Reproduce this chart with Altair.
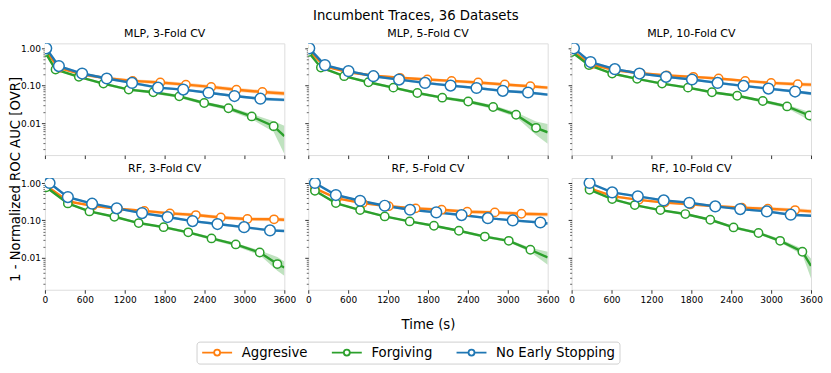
import altair as alt
import pandas as pd

PANELS = ["MLP, 3-Fold CV", "MLP, 5-Fold CV", "MLP, 10-Fold CV",
          "RF, 3-Fold CV", "RF, 5-Fold CV", "RF, 10-Fold CV"]
SERIES = ["Aggresive", "Forgiving", "No Early Stopping"]
COLORS = ["#ff7f0e", "#2ca02c", "#1f77b4"]
XTICKS = [0, 600, 1200, 1800, 2400, 3000, 3600]
YTICKS = [0.002, 0.003, 0.004, 0.005, 0.006, 0.007, 0.008, 0.009,
          0.01, 0.02, 0.03, 0.04, 0.05, 0.06, 0.07, 0.08, 0.09,
          0.1, 0.2, 0.3, 0.4, 0.5, 0.6, 0.7, 0.8, 0.9, 1.0]

# ---------------- MLP, 3-Fold CV ----------------
M3_A_T = [0, 210, 570, 940, 1320, 1735, 2120, 2500, 2880, 3270, 3600]
M3_A_Y = [0.9, 0.30, 0.20, 0.158, 0.135, 0.122, 0.107, 0.093, 0.078, 0.068, 0.062]
M3_A_LO = [0.85, 0.28, 0.183, 0.143, 0.121, 0.109, 0.095, 0.082, 0.069, 0.06, 0.054]
M3_A_HI = [0.95, 0.32, 0.218, 0.174, 0.15, 0.136, 0.12, 0.105, 0.088, 0.077, 0.071]
M3_F_T = [0, 160, 510, 880, 1260, 1630, 2020, 2395, 2760, 3110, 3440, 3600]
M3_F_Y = [0.8, 0.272, 0.173, 0.114, 0.079, 0.067, 0.052, 0.0345, 0.025, 0.0151, 0.0083, 0.0045]
M3_F_LO = [0.75, 0.255, 0.16, 0.105, 0.073, 0.061, 0.047, 0.031, 0.022, 0.0128, 0.0058, 0.0015]
M3_F_HI = [0.85, 0.29, 0.186, 0.123, 0.086, 0.073, 0.057, 0.038, 0.028, 0.0175, 0.0112, 0.0085]
M3_N_T = [20, 210, 560, 930, 1310, 1700, 2080, 2460, 2850, 3240, 3600]
M3_N_Y = [1.0, 0.335, 0.212, 0.156, 0.119, 0.089, 0.079, 0.065, 0.053, 0.045, 0.042]
M3_N_LO = [0.92, 0.31, 0.196, 0.144, 0.11, 0.082, 0.073, 0.06, 0.049, 0.041, 0.038]
M3_N_HI = [1.0, 0.36, 0.228, 0.168, 0.128, 0.096, 0.085, 0.07, 0.057, 0.049, 0.046]

# ---------------- MLP, 5-Fold CV ----------------
M5_A_T = [0, 250, 610, 990, 1380, 1790, 2155, 2555, 2955, 3340, 3600]
M5_A_Y = [0.9, 0.33, 0.23, 0.185, 0.163, 0.147, 0.135, 0.122, 0.108, 0.097, 0.089]
M5_A_LO = [0.85, 0.31, 0.213, 0.17, 0.15, 0.134, 0.122, 0.11, 0.097, 0.087, 0.079]
M5_A_HI = [0.95, 0.35, 0.248, 0.2, 0.177, 0.16, 0.148, 0.134, 0.119, 0.107, 0.099]
M5_F_T = [0, 190, 540, 905, 1280, 1640, 2015, 2405, 2780, 3125, 3425, 3600]
M5_F_Y = [0.8, 0.308, 0.18, 0.124, 0.089, 0.064, 0.048, 0.038, 0.027, 0.0168, 0.0075, 0.0057]
M5_F_LO = [0.75, 0.29, 0.168, 0.115, 0.082, 0.059, 0.044, 0.034, 0.024, 0.0145, 0.0048, 0.0028]
M5_F_HI = [0.85, 0.325, 0.192, 0.133, 0.096, 0.069, 0.052, 0.042, 0.030, 0.0195, 0.011, 0.0095]
M5_N_T = [15, 250, 605, 980, 1365, 1755, 2140, 2530, 2925, 3305, 3600]
M5_N_Y = [1.0, 0.356, 0.246, 0.18, 0.146, 0.119, 0.101, 0.087, 0.073, 0.066, 0.058]
M5_N_LO = [0.92, 0.33, 0.228, 0.166, 0.135, 0.11, 0.093, 0.08, 0.067, 0.06, 0.053]
M5_N_HI = [1.0, 0.38, 0.265, 0.194, 0.158, 0.128, 0.109, 0.094, 0.079, 0.072, 0.063]

# ---------------- MLP, 10-Fold CV ----------------
M10_A_T = [0, 290, 660, 1040, 1430, 1830, 2210, 2610, 3000, 3400, 3600]
M10_A_Y = [0.88, 0.37, 0.26, 0.215, 0.19, 0.173, 0.156, 0.135, 0.119, 0.110, 0.107]
M10_A_LO = [0.83, 0.345, 0.24, 0.198, 0.175, 0.158, 0.142, 0.122, 0.107, 0.098, 0.094]
M10_A_HI = [0.93, 0.395, 0.28, 0.232, 0.205, 0.188, 0.17, 0.148, 0.131, 0.122, 0.12]
M10_F_T = [0, 260, 610, 985, 1360, 1750, 2110, 2490, 2875, 3240, 3575, 3600]
M10_F_Y = [0.8, 0.356, 0.212, 0.153, 0.114, 0.089, 0.067, 0.054, 0.039, 0.028, 0.016, 0.015]
M10_F_LO = [0.75, 0.335, 0.198, 0.143, 0.106, 0.082, 0.062, 0.05, 0.035, 0.025, 0.012, 0.0105]
M10_F_HI = [0.85, 0.378, 0.226, 0.163, 0.122, 0.096, 0.072, 0.058, 0.043, 0.031, 0.02, 0.02]
M10_N_T = [35, 285, 650, 1020, 1420, 1810, 2195, 2585, 2960, 3360, 3600]
M10_N_Y = [1.0, 0.43, 0.278, 0.212, 0.173, 0.147, 0.119, 0.099, 0.084, 0.070, 0.062]
M10_N_LO = [0.93, 0.4, 0.258, 0.196, 0.16, 0.136, 0.11, 0.091, 0.077, 0.064, 0.056]
M10_N_HI = [1.0, 0.46, 0.298, 0.228, 0.186, 0.158, 0.128, 0.107, 0.091, 0.076, 0.068]

# ---------------- RF, 3-Fold CV ----------------
R3_A_T = [20, 355, 720, 1100, 1495, 1880, 2270, 2645, 3045, 3445, 3600]
R3_A_Y = [0.85, 0.32, 0.245, 0.205, 0.18, 0.154, 0.139, 0.12, 0.109, 0.107, 0.104]
R3_A_LO = [0.8, 0.3, 0.228, 0.19, 0.165, 0.14, 0.125, 0.108, 0.097, 0.095, 0.092]
R3_A_HI = [0.9, 0.34, 0.262, 0.222, 0.197, 0.17, 0.155, 0.134, 0.122, 0.12, 0.118]
R3_F_T = [20, 345, 670, 1045, 1410, 1785, 2155, 2505, 2870, 3230, 3495, 3600]
R3_F_Y = [0.77, 0.285, 0.174, 0.125, 0.085, 0.066, 0.048, 0.033, 0.0228, 0.0139, 0.0068, 0.0055]
R3_F_LO = [0.72, 0.268, 0.163, 0.117, 0.079, 0.061, 0.044, 0.030, 0.0205, 0.0118, 0.0045, 0.0033]
R3_F_HI = [0.82, 0.302, 0.185, 0.133, 0.091, 0.071, 0.052, 0.036, 0.025, 0.0158, 0.0105, 0.008]
R3_N_T = [70, 345, 710, 1080, 1460, 1845, 2220, 2595, 2995, 3385, 3600]
R3_N_Y = [1.0, 0.42, 0.28, 0.21, 0.157, 0.123, 0.096, 0.080, 0.066, 0.054, 0.052]
R3_N_LO = [0.92, 0.39, 0.26, 0.195, 0.146, 0.114, 0.089, 0.074, 0.061, 0.05, 0.048]
R3_N_HI = [1.0, 0.45, 0.3, 0.225, 0.168, 0.132, 0.103, 0.086, 0.071, 0.058, 0.056]

# ---------------- RF, 5-Fold CV ----------------
R5_A_T = [100, 430, 820, 1210, 1615, 2005, 2390, 2805, 3205, 3600]
R5_A_Y = [0.72, 0.39, 0.29, 0.24, 0.21, 0.193, 0.171, 0.164, 0.151, 0.145]
R5_A_LO = [0.68, 0.365, 0.268, 0.22, 0.19, 0.174, 0.153, 0.146, 0.134, 0.128]
R5_A_HI = [0.76, 0.415, 0.312, 0.26, 0.23, 0.212, 0.19, 0.182, 0.168, 0.162]
R5_F_T = [100, 415, 780, 1150, 1525, 1890, 2265, 2655, 3015, 3340, 3600]
R5_F_Y = [0.62, 0.29, 0.189, 0.128, 0.094, 0.072, 0.053, 0.037, 0.0285, 0.0164, 0.0102]
R5_F_LO = [0.58, 0.272, 0.177, 0.12, 0.088, 0.067, 0.049, 0.034, 0.026, 0.0143, 0.0065]
R5_F_HI = [0.66, 0.308, 0.201, 0.136, 0.1, 0.077, 0.057, 0.040, 0.031, 0.0185, 0.0145]
R5_N_T = [100, 415, 780, 1150, 1530, 1925, 2305, 2700, 3075, 3490, 3600]
R5_N_Y = [1.0, 0.477, 0.336, 0.247, 0.193, 0.164, 0.139, 0.115, 0.10, 0.088, 0.083]
R5_N_LO = [0.93, 0.445, 0.314, 0.23, 0.18, 0.153, 0.13, 0.107, 0.093, 0.082, 0.077]
R5_N_HI = [1.0, 0.51, 0.358, 0.264, 0.206, 0.175, 0.148, 0.123, 0.107, 0.094, 0.089]

# ---------------- RF, 10-Fold CV ----------------
R10_A_T = [270, 630, 1010, 1400, 1785, 2170, 2560, 2950, 3360, 3600]
R10_A_Y = [0.72, 0.44, 0.355, 0.30, 0.268, 0.24, 0.218, 0.205, 0.189, 0.174]
R10_A_LO = [0.68, 0.41, 0.33, 0.278, 0.248, 0.22, 0.198, 0.185, 0.168, 0.153]
R10_A_HI = [0.76, 0.47, 0.38, 0.322, 0.29, 0.262, 0.24, 0.228, 0.212, 0.198]
R10_F_T = [270, 610, 950, 1335, 1710, 2085, 2435, 2810, 3135, 3470, 3600]
R10_F_Y = [0.66, 0.373, 0.257, 0.189, 0.148, 0.104, 0.065, 0.046, 0.0285, 0.0145, 0.0061]
R10_F_LO = [0.62, 0.35, 0.24, 0.176, 0.138, 0.096, 0.06, 0.042, 0.0255, 0.012, 0.0028]
R10_F_HI = [0.7, 0.396, 0.274, 0.202, 0.158, 0.112, 0.071, 0.05, 0.032, 0.0175, 0.0095]
R10_N_T = [270, 610, 995, 1385, 1770, 2160, 2535, 2935, 3295, 3600]
R10_N_Y = [1.0, 0.56, 0.44, 0.343, 0.297, 0.237, 0.201, 0.174, 0.142, 0.133]
R10_N_LO = [0.93, 0.525, 0.41, 0.32, 0.277, 0.221, 0.187, 0.162, 0.132, 0.124]
R10_N_HI = [1.0, 0.595, 0.47, 0.366, 0.317, 0.253, 0.215, 0.186, 0.152, 0.142]

TRACES = {
    PANELS[0]: [(M3_A_T, M3_A_Y, M3_A_LO, M3_A_HI), (M3_F_T, M3_F_Y, M3_F_LO, M3_F_HI), (M3_N_T, M3_N_Y, M3_N_LO, M3_N_HI)],
    PANELS[1]: [(M5_A_T, M5_A_Y, M5_A_LO, M5_A_HI), (M5_F_T, M5_F_Y, M5_F_LO, M5_F_HI), (M5_N_T, M5_N_Y, M5_N_LO, M5_N_HI)],
    PANELS[2]: [(M10_A_T, M10_A_Y, M10_A_LO, M10_A_HI), (M10_F_T, M10_F_Y, M10_F_LO, M10_F_HI), (M10_N_T, M10_N_Y, M10_N_LO, M10_N_HI)],
    PANELS[3]: [(R3_A_T, R3_A_Y, R3_A_LO, R3_A_HI), (R3_F_T, R3_F_Y, R3_F_LO, R3_F_HI), (R3_N_T, R3_N_Y, R3_N_LO, R3_N_HI)],
    PANELS[4]: [(R5_A_T, R5_A_Y, R5_A_LO, R5_A_HI), (R5_F_T, R5_F_Y, R5_F_LO, R5_F_HI), (R5_N_T, R5_N_Y, R5_N_LO, R5_N_HI)],
    PANELS[5]: [(R10_A_T, R10_A_Y, R10_A_LO, R10_A_HI), (R10_F_T, R10_F_Y, R10_F_LO, R10_F_HI), (R10_N_T, R10_N_Y, R10_N_LO, R10_N_HI)],
}

rows = []
for panel in PANELS:
    for s, (T, Y, LO, HI) in zip(SERIES, TRACES[panel]):
        n = len(T)
        for i in range(n):
            rows.append({"panel": panel, "series": s, "t": T[i], "mean": Y[i],
                         "lo": LO[i], "hi": HI[i], "marker": i < n - 1})
df = pd.DataFrame(rows)

FONT = "DejaVu Sans"
MAJOR = "abs(log(datum.value)/LN10 - round(log(datum.value)/LN10)) < 1e-6"
cscale = alt.Scale(domain=SERIES, range=COLORS)
# legend glyph: a line with an open circle, drawn from the symbol's left edge
LEG_PATH = ("M-1,0L1.4,0M2.6,0L5,0"
            "M2.6,0A0.6,0.6,0,1,1,1.4,0A0.6,0.6,0,1,1,2.6,0Z")
LEGEND = alt.Legend(title=None, orient="none", direction="horizontal",
                    legendX=152, legendY=299,
                    symbolType=LEG_PATH, symbolSize=100, symbolOpacity=1,
                    symbolStrokeWidth=1.8, symbolFillColor="white",
                    labelFontSize=13.3, labelFont=FONT, labelColor="black",
                    strokeColor="#d0d0d0", fillColor="white",
                    padding=4, cornerRadius=3, columnPadding=20,
                    labelOffset=28)
COLOR = alt.Color("series:N", scale=cscale, legend=LEGEND)


def panel_chart(name, show_x_labels, show_y_labels, x_title=None):
    base = alt.Chart(df).transform_filter(alt.datum.panel == name)
    x = alt.X("t:Q",
              scale=alt.Scale(domain=[0, 3600], nice=False, zero=False),
              axis=alt.Axis(values=XTICKS, labels=show_x_labels, title=x_title, format="d",
                            labelFontSize=9, labelFont=FONT, labelColor="black",
                            tickSize=3.5, tickColor="black", tickWidth=0.8,
                            domain=False, grid=False, labelPadding=2,
                            titleFontSize=13.3, titleFont=FONT, titleFontWeight="normal",
                            titleColor="black", titlePadding=13, labelFlush=False))
    yscale = alt.Scale(type="log", domain=[0.0014, 1.36], nice=False)
    yaxis = alt.Axis(values=YTICKS, labels=show_y_labels, title=None,
                     labelExpr=MAJOR + " ? format(datum.value, '.2f') : ''",
                     labelFontSize=9, labelFont=FONT, labelColor="black",
                     tickSize={"condition": {"test": MAJOR, "value": 3.5}, "value": 2},
                     tickWidth={"condition": {"test": MAJOR, "value": 0.8}, "value": 0.6},
                     tickColor="black", domain=False, grid=False, labelPadding=1)
    layers = []
    for s, c in zip(SERIES, COLORS):
        layers.append(
            base.transform_filter(alt.datum.series == s).mark_area(
                color=c, opacity=0.3, clip=True
            ).encode(x=x, y=alt.Y("lo:Q", scale=yscale, axis=yaxis), y2="hi:Q")
        )
    line = base.mark_line(strokeWidth=2.4, clip=True).encode(
        x=x,
        y=alt.Y("mean:Q", scale=yscale, axis=yaxis),
        color=COLOR,
    )
    pts_small = base.transform_filter(
        alt.datum.marker & (alt.datum.series != SERIES[2])
    ).mark_point(
        filled=False, fill="white", fillOpacity=1, opacity=1, strokeWidth=1.5,
        size=70, clip=True
    ).encode(
        x=x,
        y=alt.Y("mean:Q", scale=yscale, axis=yaxis),
        color=COLOR,
    )
    pts_big = base.transform_filter(
        alt.datum.marker & (alt.datum.series == SERIES[2])
    ).mark_point(
        filled=False, fill="white", fillOpacity=1, opacity=1, strokeWidth=1.5,
        size=115, clip=True
    ).encode(
        x=x,
        y=alt.Y("mean:Q", scale=yscale, axis=yaxis),
        color=COLOR,
    )
    layers += [line, pts_small, pts_big]
    return alt.layer(*layers).properties(
        width=240, height=112,
        title=alt.TitleParams(name, fontSize=11, font=FONT, fontWeight="normal",
                              color="black", offset=4),
    )


row1 = alt.hconcat(
    panel_chart(PANELS[0], False, True),
    panel_chart(PANELS[1], False, False),
    panel_chart(PANELS[2], False, False),
    spacing=24, bounds="flush",
)
row2 = alt.hconcat(
    panel_chart(PANELS[3], True, True),
    panel_chart(PANELS[4], True, False, "Time (s)"),
    panel_chart(PANELS[5], True, False),
    spacing=24, bounds="flush",
)
grid = alt.vconcat(row1, row2, spacing=2).properties(
    title=alt.TitleParams("1 - Normalized ROC AUC [OVR]", orient="left", anchor="middle",
                          fontSize=13.3, font=FONT, fontWeight="normal", color="black", offset=-2)
)
chart = alt.vconcat(grid).properties(
    title=alt.TitleParams("Incumbent Traces, 36 Datasets", fontSize=13.3, font=FONT,
                          fontWeight="normal", color="black", anchor="middle", offset=6),
    padding=0,
).configure_view(stroke="black", strokeWidth=0.8).configure(background="white")

chart.save("out.html", embed_options={"renderer": "svg", "actions": False})
